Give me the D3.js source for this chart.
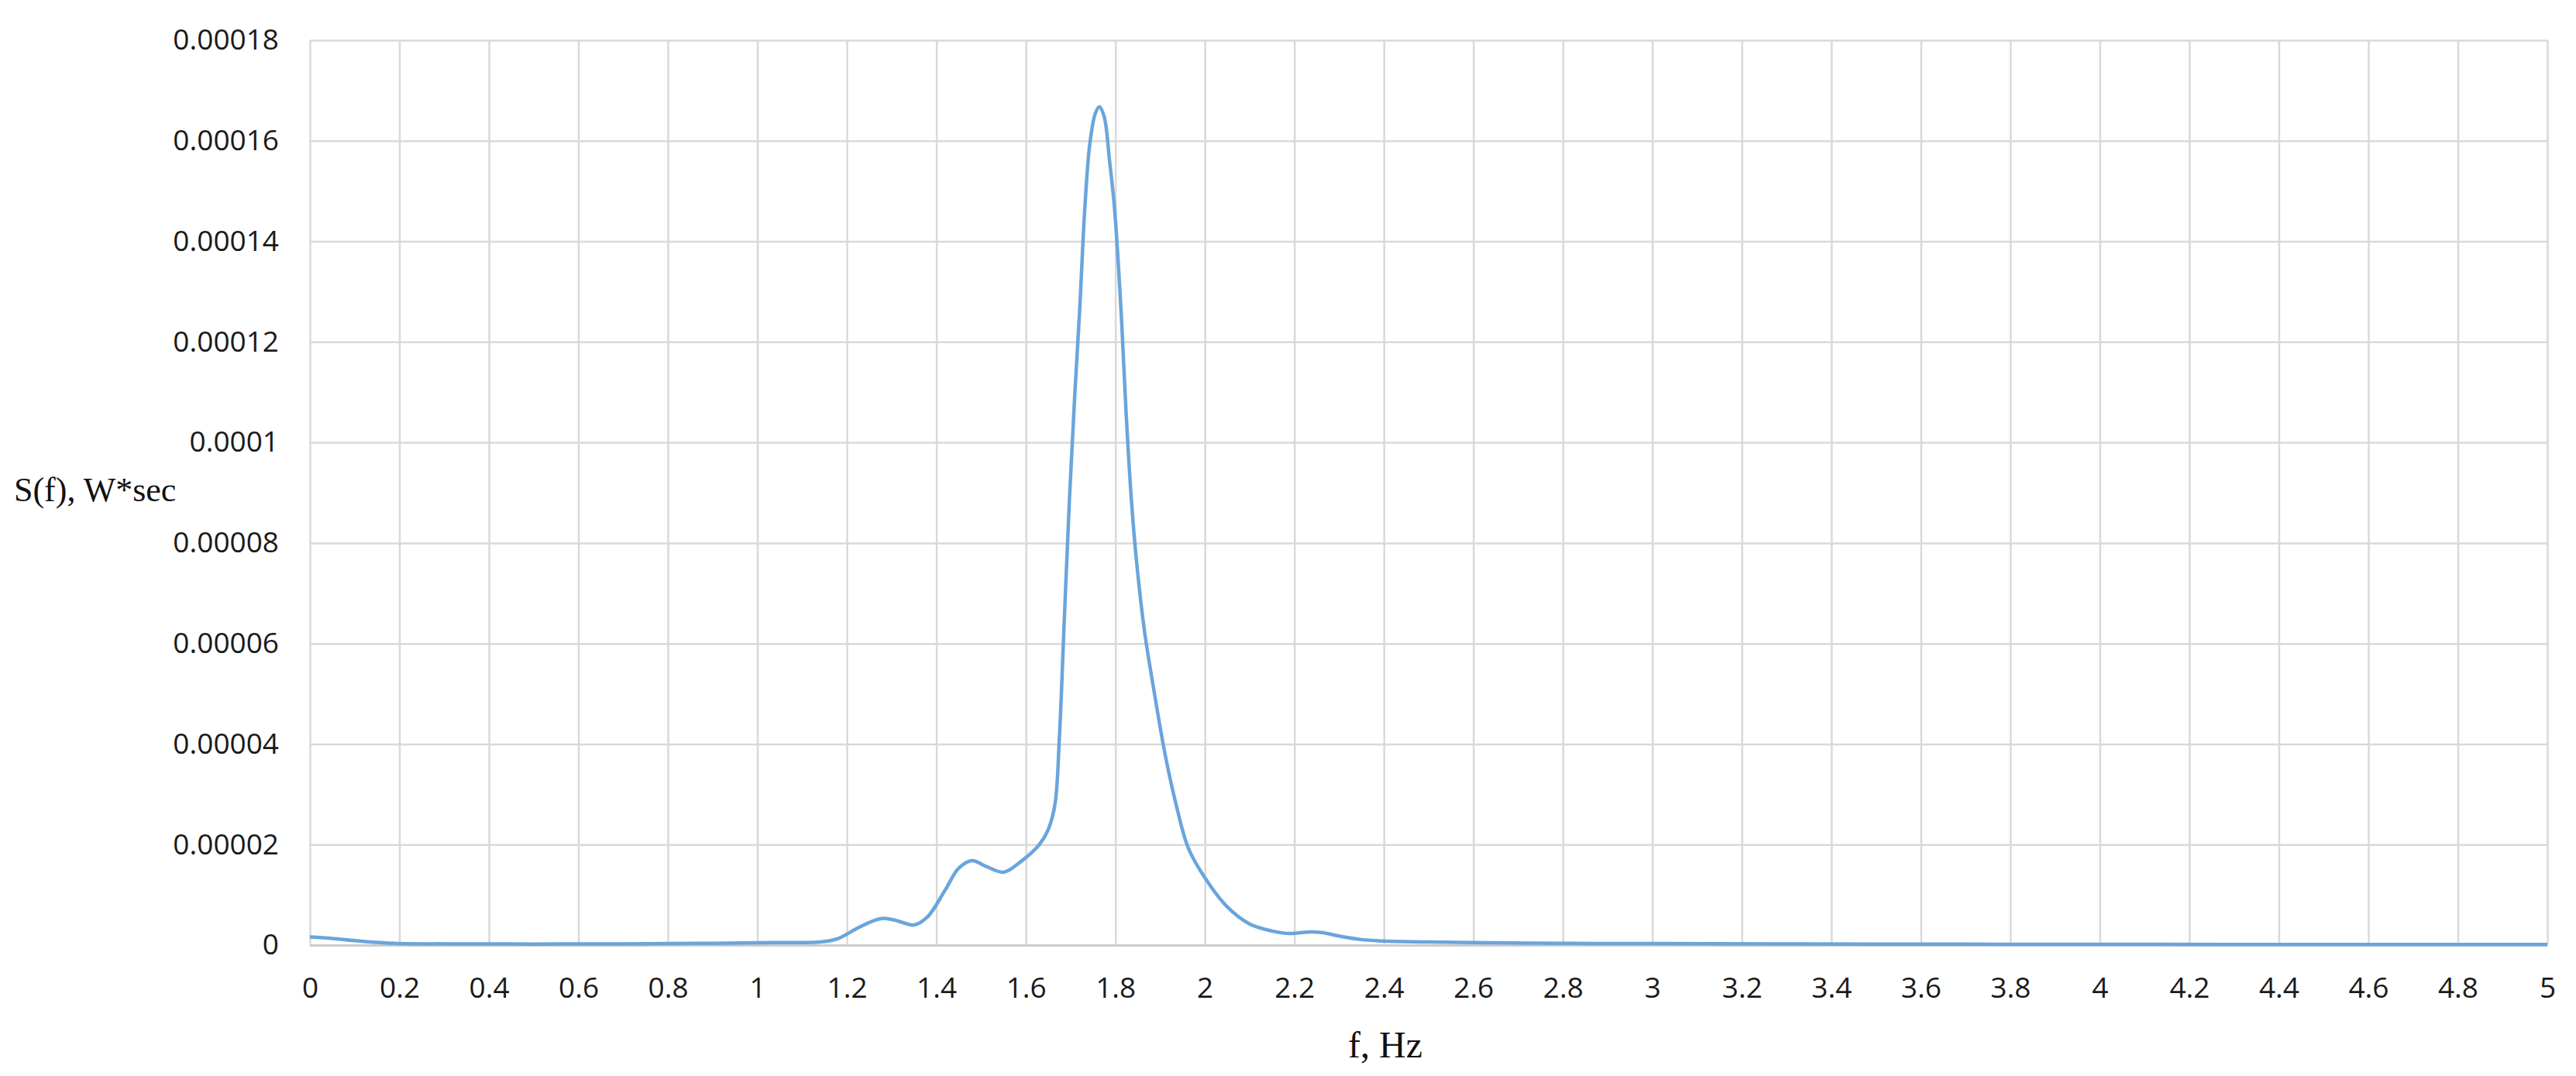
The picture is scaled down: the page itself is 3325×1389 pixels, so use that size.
<!DOCTYPE html>
<html>
<head>
<meta charset="utf-8">
<script src="https://cdn.jsdelivr.net/npm/d3@7"></script>
<style>
  html, body { margin: 0; padding: 0; background: #fff; }
  .tick text { font-family: "Open Sans", "Liberation Sans", sans-serif; font-size: 37px; fill: #1a1a1a; }
  .title { font-family: "Liberation Serif", "DejaVu Serif", serif; fill: #111; }
</style>
</head>
<body>
<svg id="chart" width="3325" height="1389"></svg>
<script>
// Частоты, Гц
const freq = [
  0, 0.05, 0.1, 0.15, 0.2, 0.3, 0.4, 0.5, 0.6, 0.7, 0.8, 0.9, 1.0, 1.05, 1.1, 1.14,
  1.18, 1.22, 1.25, 1.28, 1.31, 1.35, 1.38, 1.42, 1.45, 1.48, 1.51, 1.55, 1.59, 1.63,
  1.65, 1.665, 1.675, 1.686, 1.697, 1.709, 1.72, 1.732, 1.743, 1.755, 1.764, 1.775,
  1.787, 1.798, 1.813, 1.824, 1.836, 1.847, 1.865, 1.888, 1.911, 1.934, 1.963, 2.0,
  2.05, 2.1, 2.15, 2.19, 2.23, 2.26, 2.3, 2.35, 2.4, 2.5, 2.6, 2.8, 3.0, 3.5, 4.0, 4.5, 5.0
];
// Спектральная плотность S(f), в единицах 1e-6 W*sec
const spectrum = [
  1.6, 1.3, 0.9, 0.55, 0.3, 0.25, 0.25, 0.2, 0.25, 0.25, 0.3, 0.35, 0.45, 0.5, 0.5, 0.6,
  1.3, 3.2, 4.5, 5.3, 4.9, 4.0, 5.6, 11.0, 15.3, 16.8, 15.7, 14.5, 16.7, 20.0,
  23.0, 28, 41.5, 65, 88, 109, 126, 147, 159.5, 165.4, 166.8, 164.8,
  156, 146.7, 125.7, 105.8, 88.3, 76.6, 62.5, 49.7, 38, 28.6, 19.3, 13.4,
  7.6, 4.2, 2.8, 2.3, 2.6, 2.5, 1.8, 1.1, 0.8, 0.6, 0.5, 0.35, 0.3, 0.2, 0.15, 0.12, 0.1
];
const xTicks = d3.range(0, 26).map(i => i * 0.2);
const yTicks = d3.range(0, 10).map(i => i * 0.00002);

const svg = d3.select("#chart");
const margin = { left: 400, right: 37, top: 52, bottom: 169 };
const W = +svg.attr("width"), H = +svg.attr("height");
const plotW = W - margin.left - margin.right;
const plotH = H - margin.top - margin.bottom;

const x = d3.scaleLinear().domain([0, 5]).range([0, plotW]);
const y = d3.scaleLinear().domain([0, 0.00018]).range([plotH, 0]);

const g = svg.append("g").attr("transform", `translate(${margin.left},${margin.top})`);

// Сетка и подписи по X
const gx = g.append("g")
  .attr("transform", `translate(0,${plotH})`)
  .call(d3.axisBottom(x).tickValues(xTicks).tickSize(-plotH).tickPadding(42)
    .tickFormat(d => String(+d.toFixed(1))));
gx.select(".domain").remove();
gx.selectAll(".tick line").attr("stroke", "#d9d9d9").attr("stroke-width", 2.5);

// Сетка и подписи по Y
const gy = g.append("g")
  .call(d3.axisLeft(y).tickValues(yTicks).tickSize(-plotW).tickPadding(40)
    .tickFormat(d => String(+d.toFixed(5))));
gy.select(".domain").remove();
gy.selectAll(".tick line").attr("stroke", "#d9d9d9").attr("stroke-width", 2.5);
gy.selectAll(".tick").filter(d => d === 0).select("line")
  .attr("stroke", "#cccccc").attr("stroke-width", 3);

// Кривая спектра
const pts = freq.map((f, i) => [f, spectrum[i] * 1e-6]);
const line = d3.line()
  .x(d => x(d[0]))
  .y(d => y(Math.max(0, d[1])))
  .curve(d3.curveCatmullRom.alpha(0.5));

g.append("path")
  .datum(pts)
  .attr("d", line)
  .attr("fill", "none")
  .attr("stroke", "#6aa5dc")
  .attr("stroke-width", 4.5)
  .attr("stroke-linejoin", "round");

// Заголовки осей
svg.append("text")
  .attr("class", "title")
  .attr("x", 18).attr("y", 647)
  .style("font-size", "44px")
  .text("S(f), W*sec");

svg.append("text")
  .attr("class", "title")
  .attr("x", 1788).attr("y", 1365)
  .attr("text-anchor", "middle")
  .style("font-size", "48px")
  .text("f, Hz");
</script>
</body>
</html>
